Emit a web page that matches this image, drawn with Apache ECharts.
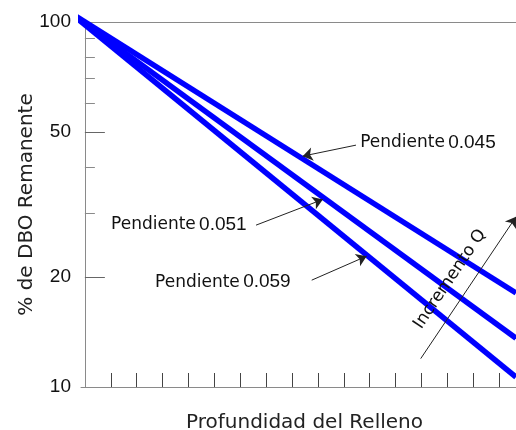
<!DOCTYPE html>
<html>
<head>
<meta charset="utf-8">
<script src="https://cdn.jsdelivr.net/npm/echarts@6/dist/echarts.min.js"></script>
<style>
html,body{margin:0;padding:0;background:#fff;}
#chart{width:516px;height:430px;}
</style>
</head>
<body>
<div id="chart"></div>
<script>
// ---- data ----
const lineX = [-0.6, 16.65];              // depth (tick units) at start / right edge
const line045 = [106.5, 18.1];            // % DBO remaining
const line051 = [106.5, 13.6];
const line059 = [106.5, 10.65];
const seriesNames = ['Pendiente 0.045', 'Pendiente 0.051', 'Pendiente 0.059'];
const slopeLabels = ['0.045', '0.051', '0.059'];

const xTickValues = [1, 2, 3, 4, 5, 6, 7, 8, 9, 10, 11, 12, 13, 14, 15, 16];
const yLabelValues = [10, 20, 50, 100];
const yMajorTicks = [20, 50];
const yMinorTicks = [30, 40, 60, 70, 80, 90];

// annotation arrows: [tail, head] in data coords
const arrows045 = [[10.47, 45.99], [8.41, 42.9]];
const arrows051 = [[6.61, 27.76], [9.19, 32.65]];
const arrows059 = [[8.76, 19.62], [10.88, 22.83]];
const arrowQ = [[12.97, 11.96], [16.65, 29.25]];

// text anchors in data coords
const textAnchors = [[10.63, 46.6], [1.01, 27.9], [2.71, 19.37]];
const textQAnchor = [14.1, 19.74];

const chart = echarts.init(document.getElementById('chart'), null, {renderer: 'canvas'});

function lineData(ys) { return lineX.map((x, i) => [x, ys[i]]); }

const axisGray = '#8a8a8a';
const xMin = -0.15, xMax = 16.65;

chart.setOption({
  animation: false,
  backgroundColor: '#fff',
  grid: {left: 81, right: 0, top: 22, bottom: 43, containLabel: false, outerBoundsMode: 'none'},
  xAxis: [{
    type: 'value', min: xMin, max: xMax, position: 'bottom',
    name: 'Profundidad del Relleno', nameLocation: 'middle', nameGap: 26, nameMoveOverlap: false,
    nameTextStyle: {fontFamily: 'DejaVu Sans', fontSize: 20, color: '#222', padding: [0, 0, 0, 12]},
    axisLine: {show: true, lineStyle: {color: axisGray, width: 1}},
    axisTick: {show: true, inside: true, length: 14, customValues: xTickValues, lineStyle: {color: '#444', width: 1}},
    axisLabel: {show: false},
    splitLine: {show: false}
  }, {
    type: 'value', min: xMin, max: xMax, position: 'top',
    axisLine: {show: true, lineStyle: {color: axisGray, width: 1}},
    axisTick: {show: false}, axisLabel: {show: false}, splitLine: {show: false}
  }],
  yAxis: [{
    type: 'log', logBase: 10, min: 10, max: 100, position: 'left',
    name: '% de DBO Remanente', nameLocation: 'middle', nameGap: 44, nameRotate: 90, nameMoveOverlap: false,
    nameTextStyle: {fontFamily: 'DejaVu Sans', fontSize: 20, color: '#222'},
    axisLine: {show: true, lineStyle: {color: axisGray, width: 1}},
    axisTick: {show: true, inside: true, length: 20, customValues: yMajorTicks, lineStyle: {color: '#666', width: 1}},
    axisLabel: {show: true, customValues: yLabelValues, margin: 10, fontFamily: 'Liberation Sans', fontSize: 19, color: '#111',
      formatter: v => String(Math.round(v))},
    splitLine: {show: false}
  }, {
    type: 'log', logBase: 10, min: 10, max: 100, position: 'left', offset: 0,
    axisLine: {show: false},
    axisTick: {show: true, inside: true, length: 10, customValues: yMinorTicks, lineStyle: {color: axisGray, width: 1}},
    axisLabel: {show: false},
    splitLine: {show: false}
  }],
  series: [
    {name: seriesNames[0], type: 'line', data: lineData(line045), symbol: 'none', clip: false,
     lineStyle: {color: '#0000ff', width: 5.5}, z: 3},
    {name: seriesNames[1], type: 'line', data: lineData(line051), symbol: 'none', clip: false,
     lineStyle: {color: '#0000ff', width: 5.5}, z: 3},
    {name: seriesNames[2], type: 'line', data: lineData(line059), symbol: 'none', clip: false,
     lineStyle: {color: '#0000ff', width: 5.5}, z: 3},
    {type: 'lines', coordinateSystem: 'cartesian2d', clip: false, z: 4,
     symbol: ['none', 'arrow'], symbolSize: [0, 10],
     lineStyle: {color: '#222', width: 1, curveness: 0, opacity: 1},
     data: [{coords: arrows045}, {coords: arrows051}, {coords: arrows059}, {coords: arrowQ}]}
  ]
});

const rich = {
  a: {fontFamily: 'DejaVu Sans', fontSize: 17, fill: '#111', color: '#111'},
  b: {fontFamily: 'Liberation Sans', fontSize: 19, fill: '#111', color: '#111'}
};
const graphics = textAnchors.map((p, i) => {
  const px = chart.convertToPixel({gridIndex: 0}, p);
  return {type: 'text', x: px[0], y: px[1], z: 10,
    style: {text: '{a|Pendiente} {b|' + slopeLabels[i] + '}', rich: rich, align: 'left', verticalAlign: 'middle', fill: '#111'}};
});
const q = chart.convertToPixel({gridIndex: 0}, textQAnchor);
graphics.push({type: 'text', x: q[0], y: q[1], rotation: 56 * Math.PI / 180, z: 10,
  style: {text: 'Incremento Q', fontFamily: 'DejaVu Sans', fontSize: 17, fill: '#111', align: 'center', verticalAlign: 'middle'}});
chart.setOption({graphic: graphics});
</script>
</body>
</html>
